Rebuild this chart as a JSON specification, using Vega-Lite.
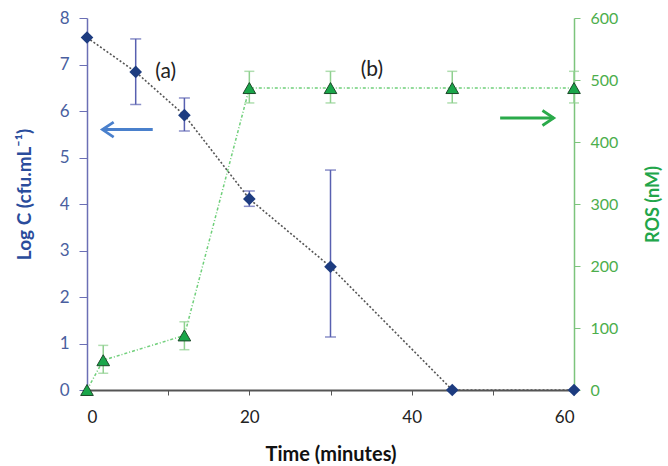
{
  "$schema": "https://vega.github.io/schema/vega-lite/v6.json",
  "width": 487,
  "height": 372,
  "autosize": {"type": "none"},
  "padding": {"left": 87, "top": 18, "right": 94, "bottom": 76},
  "background": "white",
  "config": {"view": {"stroke": null}, "font": "Lato", "axis": {"grid": false}},
  "datasets": {
    "cfu": [
      {"t": 0, "logc": 7.58}, {"t": 6, "logc": 6.84}, {"t": 12, "logc": 5.91},
      {"t": 20, "logc": 4.11}, {"t": 30, "logc": 2.65}, {"t": 45, "logc": 0}, {"t": 60, "logc": 0}
    ],
    "cfuErr": [
      {"t": 6, "lo": 6.14, "hi": 7.55}, {"t": 12, "lo": 5.57, "hi": 6.28},
      {"t": 20, "lo": 3.95, "hi": 4.28}, {"t": 30, "lo": 1.14, "hi": 4.73}
    ],
    "ros": [
      {"t": 0, "ros": 0}, {"t": 2, "ros": 48}, {"t": 12, "ros": 88}, {"t": 20, "ros": 487},
      {"t": 30, "ros": 487}, {"t": 45, "ros": 487}, {"t": 60, "ros": 487}
    ],
    "rosErr": [
      {"t": 2, "lo": 27, "hi": 72}, {"t": 12, "lo": 65, "hi": 110},
      {"t": 20, "lo": 463, "hi": 514}, {"t": 30, "lo": 463, "hi": 514},
      {"t": 45, "lo": 463, "hi": 514}, {"t": 60, "lo": 463, "hi": 514}
    ],
    "labels": [
      {"t": 9.7, "logc": 6.84, "text": "(a)"}, {"t": 35.1, "logc": 6.88, "text": "(b)"}
    ],
    "arrows": [
      {"side": "left", "t1": 1.9, "t2": 8.1, "logc": 5.6},
      {"side": "right", "t1": 50.9, "t2": 57.5, "logc": 5.85}
    ]
  },
  "layer": [
    {
      "layer": [
        {
          "data": {"name": "cfu"},
          "mark": {"type": "line", "color": "#555555", "strokeDash": [2, 2], "strokeWidth": 1.6},
          "encoding": {
            "x": {
              "field": "t", "type": "quantitative",
              "scale": {"domain": [0, 60], "nice": false},
              "axis": {
                "values": [0, 10, 20, 30, 40, 50, 60],
                "labelExpr": "datum.value % 20 == 0 ? datum.label : ''",
                "domainColor": "#555555", "domainWidth": 2,
                "tickColor": "#555555", "tickSize": 5,
                "labelColor": "#222222", "labelFontSize": 17, "labelPadding": 14,
                "title": "Time (minutes)", "titleFontSize": 20, "titleFontWeight": "bold",
                "titleColor": "#111111", "titleBaseline": "middle", "titleY": 64
              }
            },
            "y": {
              "field": "logc", "type": "quantitative",
              "scale": {"domain": [0, 8], "nice": false},
              "axis": {
                "values": [0, 1, 2, 3, 4, 5, 6, 7, 8],
                "domainColor": "#6b6fb5", "domainWidth": 1.5,
                "tickColor": "#6b6fb5", "tickSize": 8,
                "labelColor": "#4a5fa0", "labelFontSize": 17, "labelPadding": 10,
                "title": "Log C (cfu.mL⁻¹)", "titleFontSize": 19, "titleFontWeight": "bold",
                "titleColor": "#2a4c9c", "titleAngle": 270, "titleX": -63, "titleY": 176,
                "titleAlign": "center", "titleBaseline": "middle"
              }
            }
          }
        },
        {
          "data": {"name": "cfuErr"},
          "mark": {"type": "errorbar", "color": "#5860b0", "thickness": 1.5, "ticks": {"size": 11, "color": "#5860b0", "thickness": 1.5}},
          "encoding": {
            "x": {"field": "t", "type": "quantitative"},
            "y": {"field": "lo", "type": "quantitative", "title": "Log C (cfu.mL⁻¹)"},
            "y2": {"field": "hi"}
          }
        },
        {
          "data": {"name": "cfu"},
          "mark": {"type": "point", "shape": "diamond", "filled": true, "color": "#1d3c80", "size": 160, "opacity": 1},
          "encoding": {
            "x": {"field": "t", "type": "quantitative"},
            "y": {"field": "logc", "type": "quantitative", "title": "Log C (cfu.mL⁻¹)"}
          }
        },
        {
          "data": {"name": "labels"},
          "mark": {"type": "text", "fontSize": 21, "color": "#222222"},
          "encoding": {
            "x": {"field": "t", "type": "quantitative"},
            "y": {"field": "logc", "type": "quantitative", "title": "Log C (cfu.mL⁻¹)"},
            "text": {"field": "text"}
          }
        },
        {
          "data": {"name": "arrows"},
          "mark": {"type": "rule", "strokeWidth": 3},
          "encoding": {
            "x": {"field": "t1", "type": "quantitative"},
            "x2": {"field": "t2"},
            "y": {"field": "logc", "type": "quantitative", "title": "Log C (cfu.mL⁻¹)"},
            "color": {"field": "side", "type": "nominal", "scale": {"domain": ["left", "right"], "range": ["#4a80cc", "#2aaa4a"]}, "legend": null}
          }
        },
        {
          "data": {"name": "arrows"},
          "transform": [{"filter": "datum.side == 'left'"}],
          "mark": {"type": "point", "shape": "M1.5,-1L0,0L1.5,1", "filled": false, "strokeWidth": 2.8, "size": 225, "opacity": 1},
          "encoding": {
            "x": {"field": "t1", "type": "quantitative"},
            "y": {"field": "logc", "type": "quantitative", "title": "Log C (cfu.mL⁻¹)"},
            "color": {"field": "side", "type": "nominal", "legend": null}
          }
        },
        {
          "data": {"name": "arrows"},
          "transform": [{"filter": "datum.side == 'right'"}],
          "mark": {"type": "point", "shape": "M-1.5,-1L0,0L-1.5,1", "filled": false, "strokeWidth": 2.8, "size": 225, "opacity": 1},
          "encoding": {
            "x": {"field": "t2", "type": "quantitative"},
            "y": {"field": "logc", "type": "quantitative", "title": "Log C (cfu.mL⁻¹)"},
            "color": {"field": "side", "type": "nominal", "legend": null}
          }
        }
      ]
    },
    {
      "layer": [
        {
          "data": {"name": "ros"},
          "mark": {"type": "line", "color": "#6fcf7a", "strokeDash": [3, 2, 1, 2], "strokeWidth": 1.5},
          "encoding": {
            "x": {"field": "t", "type": "quantitative"},
            "y": {
              "field": "ros", "type": "quantitative",
              "scale": {"domain": [0, 600], "nice": false},
              "axis": {
                "orient": "right",
                "values": [0, 100, 200, 300, 400, 500, 600],
                "domainColor": "#7cc47c", "domainWidth": 1.5,
                "tickColor": "#7cc47c", "tickSize": 6,
                "labelColor": "#4cae4c", "labelFontSize": 16, "labelPadding": 10,
                "title": "ROS (nM)", "titleFontSize": 18, "titleFontWeight": "bold",
                "titleColor": "#22a64a", "titleAngle": 270, "titleX": 79, "titleY": 186,
                "titleAlign": "center", "titleBaseline": "middle"
              }
            }
          }
        },
        {
          "data": {"name": "rosErr"},
          "mark": {"type": "errorbar", "color": "#8fd08f", "thickness": 1.5, "ticks": {"size": 10, "color": "#8fd08f", "thickness": 1.5}},
          "encoding": {
            "x": {"field": "t", "type": "quantitative"},
            "y": {"field": "lo", "type": "quantitative", "title": "ROS (nM)"},
            "y2": {"field": "hi"}
          }
        },
        {
          "data": {"name": "ros"},
          "mark": {"type": "point", "shape": "triangle-up", "filled": true, "fill": "#1aa64a", "stroke": "#1d4a2a", "strokeWidth": 1, "size": 160, "opacity": 1},
          "encoding": {
            "x": {"field": "t", "type": "quantitative"},
            "y": {"field": "ros", "type": "quantitative", "title": "ROS (nM)"}
          }
        }
      ]
    }
  ],
  "resolve": {"scale": {"y": "independent", "color": "independent"}, "axis": {"y": "independent"}}
}
